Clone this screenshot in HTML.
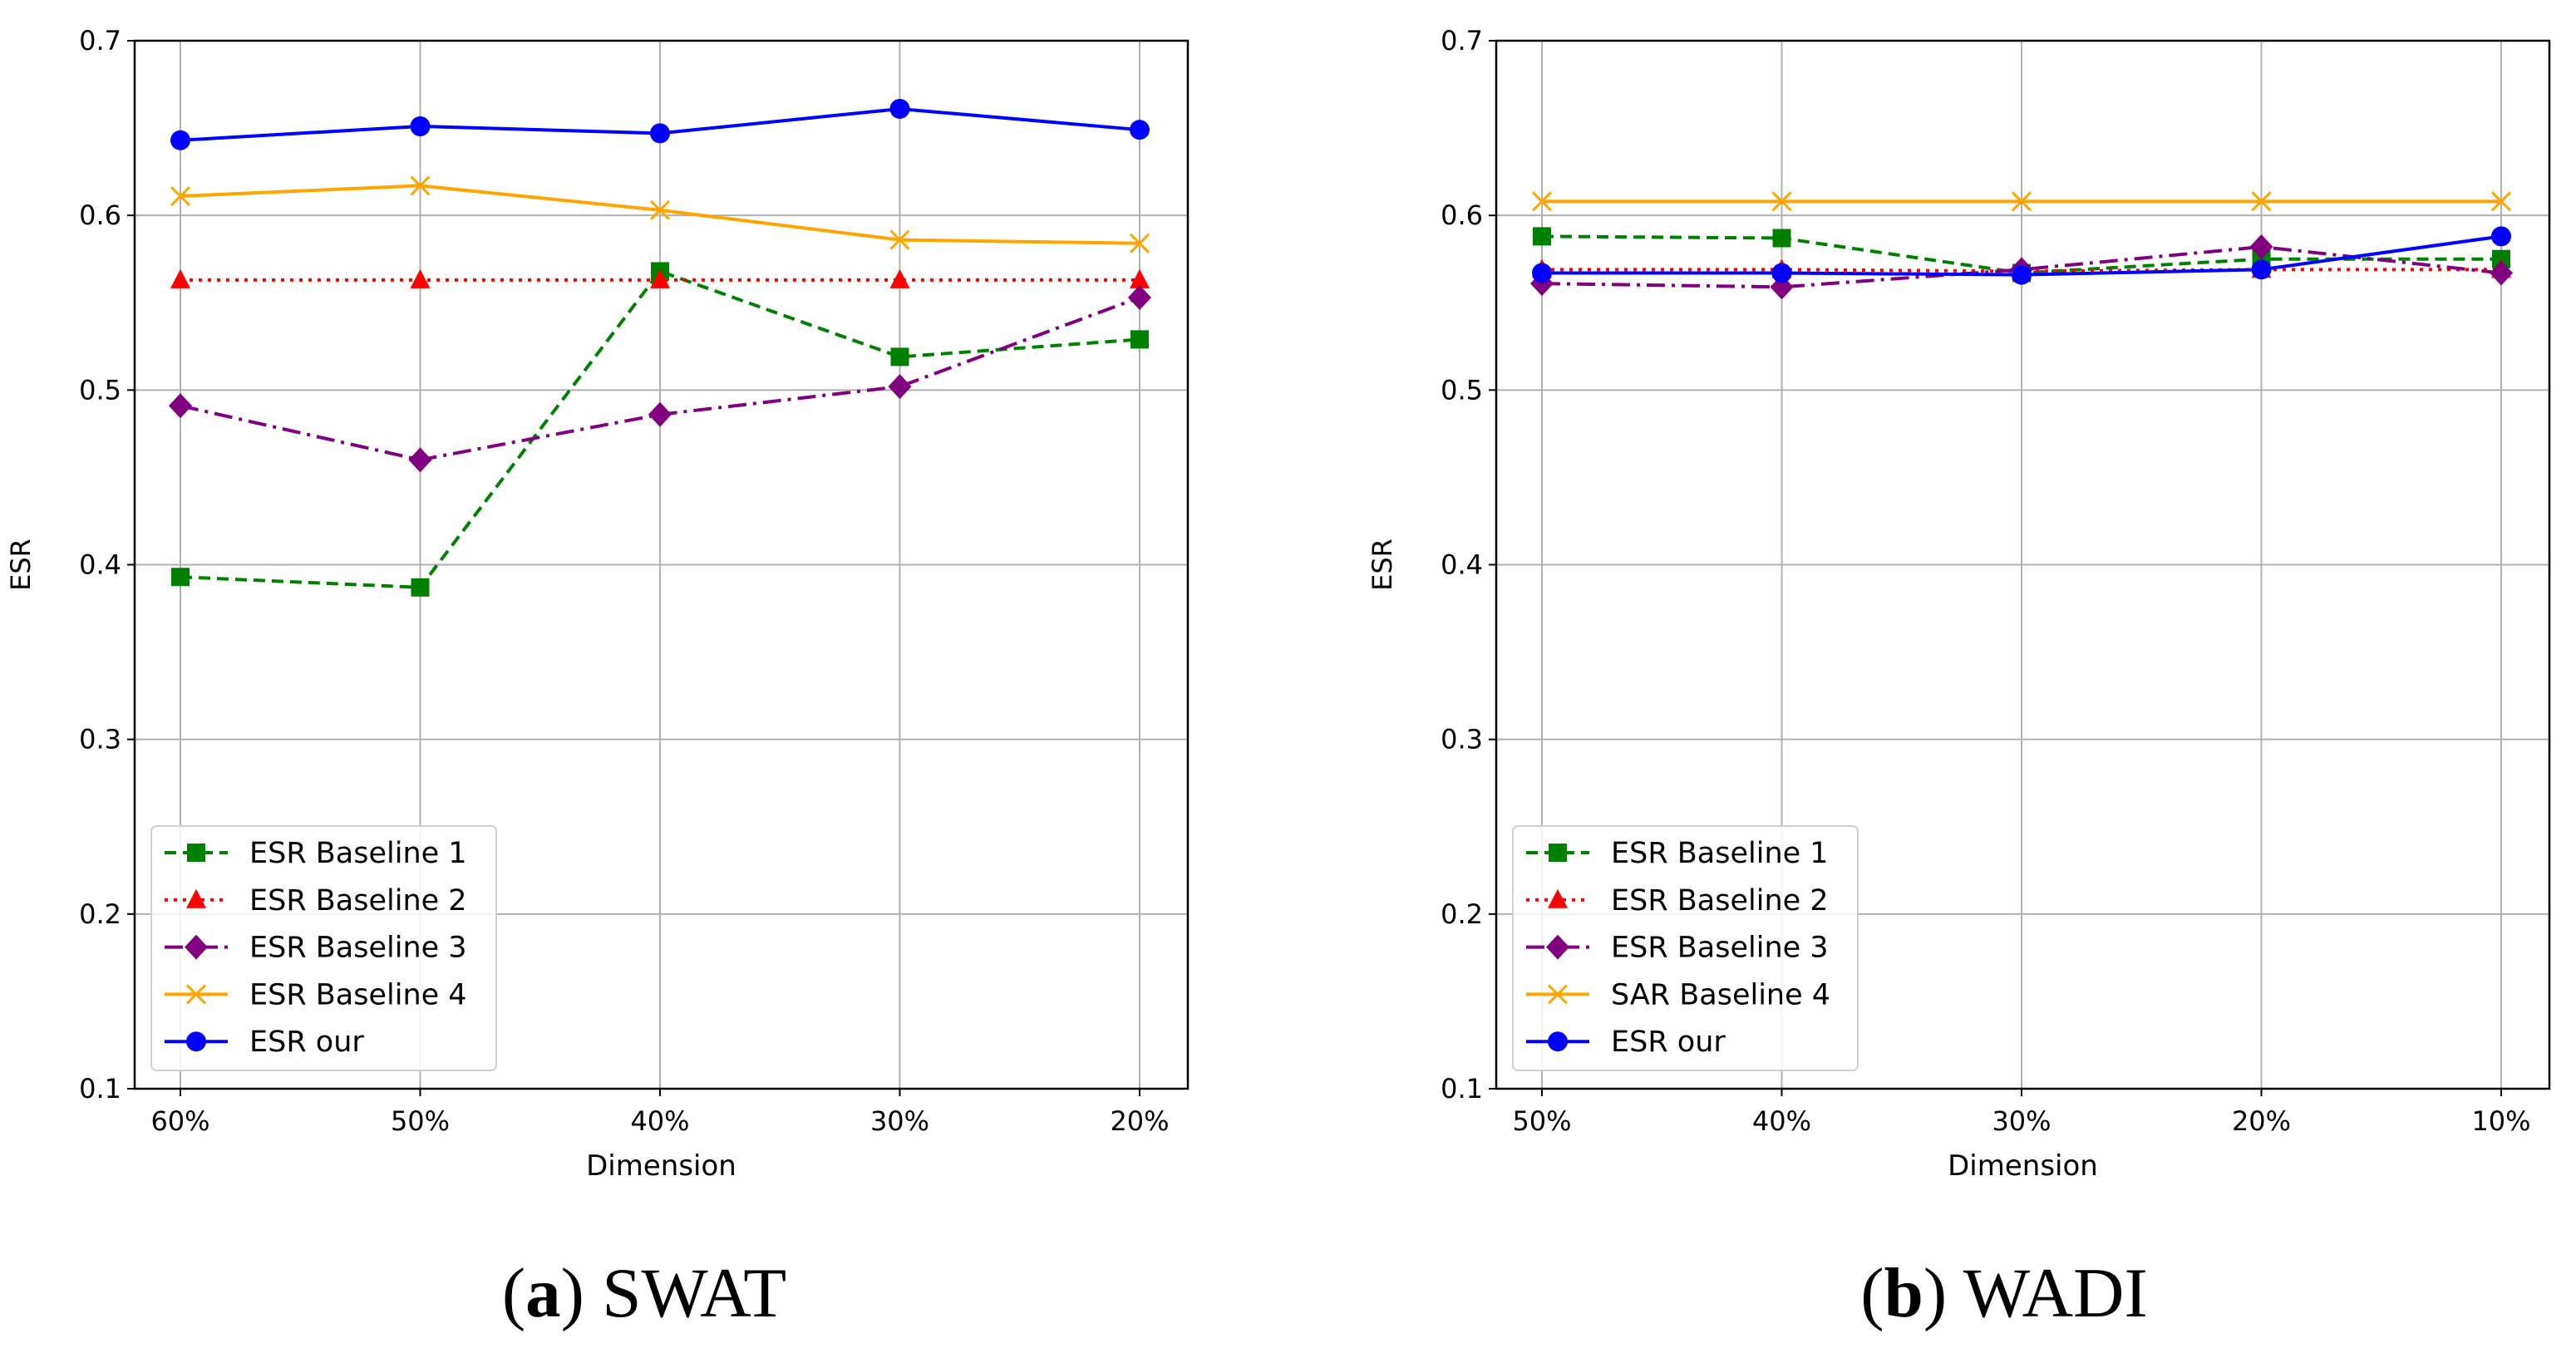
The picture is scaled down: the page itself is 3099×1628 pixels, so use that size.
<!DOCTYPE html>
<html><head><meta charset="utf-8"><style>body{margin:0;background:#fff}svg{display:block}</style></head>
<body>
<svg id="chart" width="3099" height="1628" viewBox="0 0 3099 1628" xmlns="http://www.w3.org/2000/svg" font-family="'DejaVu Sans','Liberation Sans',sans-serif"></svg>
<script>
const catsA = ["60%","50%","40%","30%","20%"];
const catsB = ["50%","40%","30%","20%","10%"];
const yTicks = [0.1,0.2,0.3,0.4,0.5,0.6,0.7];
const a_b1 = [0.393,0.387,0.568,0.519,0.529];
const a_b2 = [0.563,0.563,0.563,0.563,0.563];
const a_b3 = [0.491,0.460,0.486,0.502,0.553];
const a_b4 = [0.611,0.617,0.603,0.586,0.584];
const a_our = [0.643,0.651,0.647,0.661,0.649];
const b_b1 = [0.588,0.587,0.567,0.575,0.575];
const b_b2 = [0.569,0.569,0.568,0.569,0.569];
const b_b3 = [0.561,0.559,0.569,0.582,0.567];
const b_b4 = [0.608,0.608,0.608,0.608,0.608];
const b_our = [0.567,0.567,0.566,0.569,0.588];
const labelsA = ["ESR Baseline 1","ESR Baseline 2","ESR Baseline 3","ESR Baseline 4","ESR our"];
const labelsB = ["ESR Baseline 1","ESR Baseline 2","ESR Baseline 3","SAR Baseline 4","ESR our"];

const NS="http://www.w3.org/2000/svg";
const svg=document.getElementById('chart');
function mk(tag,attrs,parent){const e=document.createElementNS(NS,tag);for(const k in attrs)e.setAttribute(k,attrs[k]);(parent||svg).appendChild(e);return e;}
const styles=[
 {c:"green",dash:"14,8",m:"square"},
 {c:"red",dash:"4,7",m:"tri"},
 {c:"purple",dash:"22,8,4,8",m:"diamond"},
 {c:"orange",dash:"",m:"x"},
 {c:"blue",dash:"",m:"circle"}];
function marker(g,type,x,y,c){
 let e;
 if(type==="square")e=mk('rect',{x:x-11,y:y-11,width:22,height:22,fill:c},g);
 else if(type==="tri")e=mk('polygon',{points:`${x},${y-13} ${x+12},${y+10} ${x-12},${y+10}`,fill:c},g);
 else if(type==="diamond")e=mk('polygon',{points:`${x},${y-15} ${x+14},${y} ${x},${y+15} ${x-14},${y}`,fill:c},g);
 else if(type==="x")e=mk('path',{d:`M${x-11},${y-11}L${x+11},${y+11}M${x-11},${y+11}L${x+11},${y-11}`,stroke:c,'stroke-width':3,fill:'none'},g);
 else e=mk('circle',{cx:x,cy:y,r:12,fill:c},g);
 
 
}
function panel(id,L,R,T,B,cats,series,labels,caption,capX){
 const g=mk('g',{});
 
 
 const x0=L+55,x1=R-58;
 const xs=i=>x0+(x1-x0)*i/(cats.length-1);
 const ys=v=>B-(v-0.1)/(0.6)*(B-T);
 yTicks.forEach(v=>{const y=ys(v);
  const gl=mk('line',{x1:L,x2:R,y1:y,y2:y,stroke:'#b0b0b0','stroke-width':2},g);
  
  mk('line',{x1:L-9,x2:L,y1:y,y2:y,stroke:'#000','stroke-width':2},g);
  const t=mk('text',{x:L-16,y:y+11,'text-anchor':'end','font-size':32,fill:'#000'},g);t.textContent=v.toFixed(1);
  });
 cats.forEach((c,i)=>{const x=xs(i);
  const gl=mk('line',{x1:x,x2:x,y1:T,y2:B,stroke:'#b0b0b0','stroke-width':2},g);
  
  mk('line',{x1:x,x2:x,y1:B,y2:B+9,stroke:'#000','stroke-width':2},g);
  const t=mk('text',{x:x,y:B+50,'text-anchor':'middle','font-size':32,fill:'#000'},g);t.textContent=c;
  });
 series.forEach((s,k)=>{const st=styles[k];
  const p=mk('polyline',{points:s.map((v,i)=>xs(i)+','+ys(v)).join(' '),fill:'none',stroke:st.c,'stroke-width':4,'stroke-dasharray':st.dash},g);
  
  s.forEach((v,i)=>marker(g,st.m,xs(i),ys(v),st.c));});
 const fr=mk('rect',{x:L,y:T,width:R-L,height:B-T,fill:'none',stroke:'#000','stroke-width':2.5},g);
 
 const yl=mk('text',{x:0,y:0,transform:`translate(${L-126},${(T+B)/2}) rotate(-90)`,'text-anchor':'middle','font-size':32},g);yl.textContent='ESR';
 
 const xl=mk('text',{x:(L+R)/2,y:B+104,'text-anchor':'middle','font-size':34},g);xl.textContent='Dimension';
 
 const lg=mk('g',{},g);
 
 mk('rect',{x:L+20,y:994,width:415,height:294,rx:6,fill:'#fff','fill-opacity':0.85,stroke:'#d0d0d0','stroke-width':2},lg);
 labels.forEach((lab,k)=>{const st=styles[k];const y=1026+k*56.8;
  const e=mk('g',{},lg);
  
  mk('line',{x1:L+36,x2:L+112,y1:y,y2:y,stroke:st.c,'stroke-width':4,'stroke-dasharray':st.dash},e);
  marker(e,st.m,L+74,y,st.c);
  const t=mk('text',{x:L+138,y:y+12,'font-size':35},e);t.textContent=lab;});
 const cp=mk('text',{x:capX,y:1584,'text-anchor':'middle','font-size':85,'font-family':"'Liberation Serif',serif"},g);
 cp.innerHTML='(<tspan font-weight="bold">'+caption[0]+'</tspan>) '+caption[1];
 
}
panel('swat',162,1429,49,1310,catsA,[a_b1,a_b2,a_b3,a_b4,a_our],labelsA,['a','SWAT'],775);
panel('wadi',1800,3067,49,1310,catsB,[b_b1,b_b2,b_b3,b_b4,b_our],labelsB,['b','WADI'],2411);
</script>
</body></html>
